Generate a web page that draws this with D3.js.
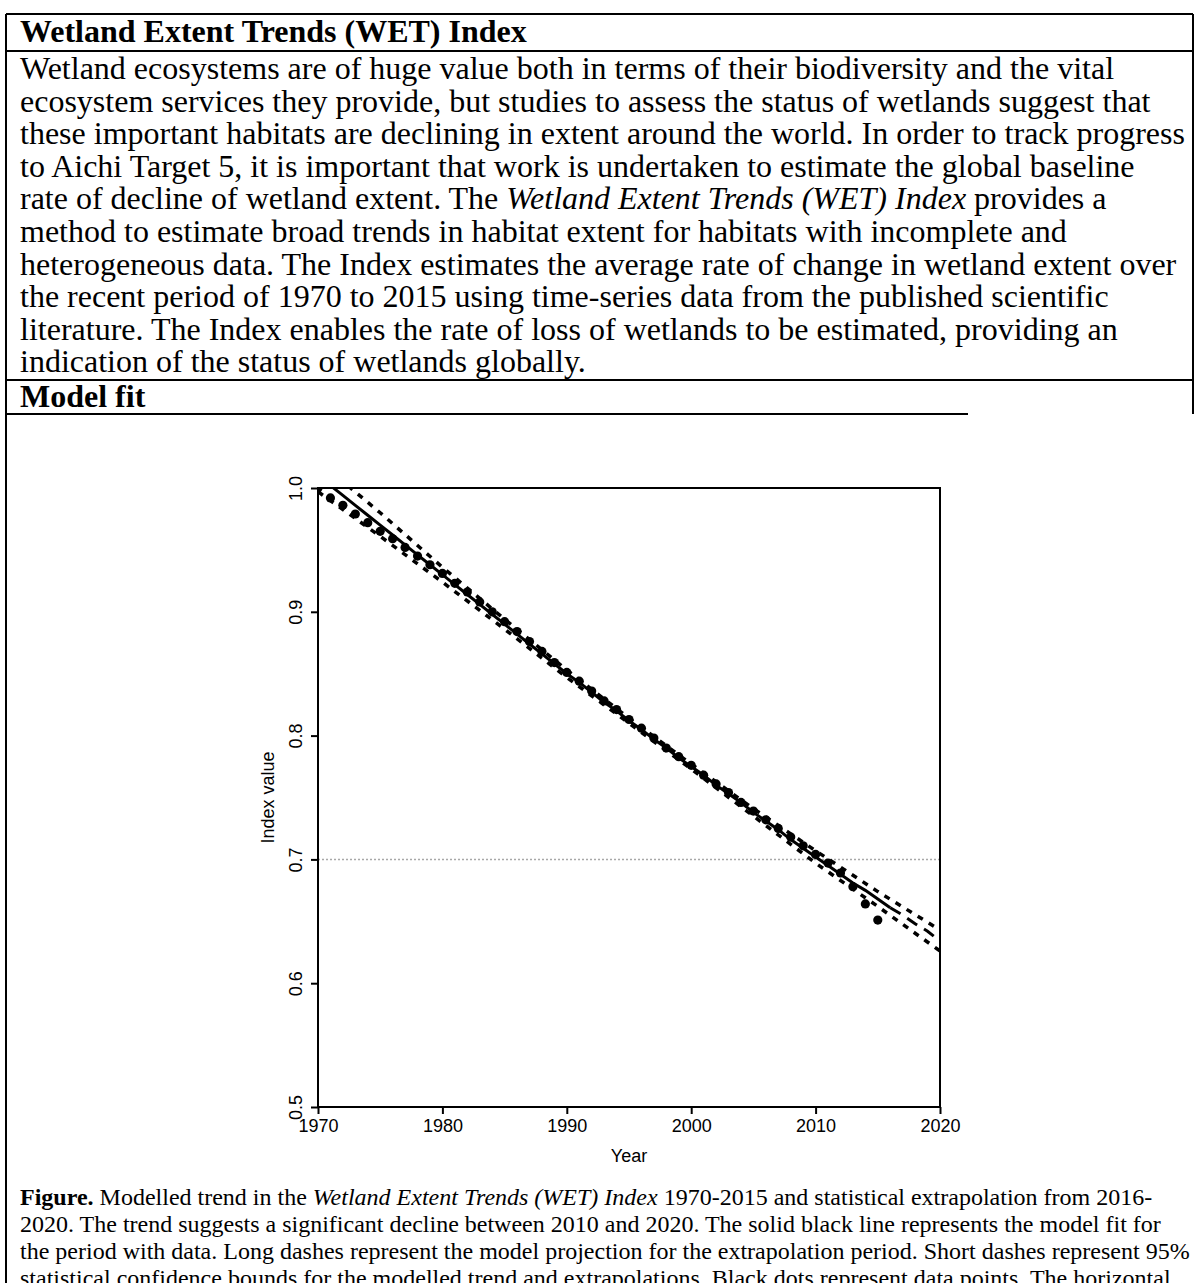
<!DOCTYPE html>
<html>
<head>
<meta charset="utf-8">
<script src="https://cdn.jsdelivr.net/npm/d3@7"></script>
<style>
  body { margin: 0; background: #ffffff; }
</style>
</head>
<body>
<div id="page"></div>
<script>
// values
const dotYears = [1970, 1971, 1972, 1973, 1974, 1975, 1976, 1977, 1978, 1979,
  1980, 1981, 1982, 1983, 1984, 1985, 1986, 1987, 1988, 1989,
  1990, 1991, 1992, 1993, 1994, 1995, 1996, 1997, 1998, 1999,
  2000, 2001, 2002, 2003, 2004, 2005, 2006, 2007, 2008, 2009,
  2010, 2011, 2012, 2013, 2014, 2015];
const dotValues = [1.000, 0.992, 0.986, 0.979, 0.972, 0.965, 0.959, 0.952, 0.945, 0.938,
  0.931, 0.923, 0.916, 0.908, 0.900, 0.892, 0.884, 0.876, 0.868, 0.859,
  0.851, 0.844, 0.836, 0.828, 0.821, 0.813, 0.806, 0.798, 0.790, 0.783,
  0.776, 0.768, 0.761, 0.754, 0.746, 0.739, 0.732, 0.725, 0.718, 0.711,
  0.704, 0.697, 0.689, 0.678, 0.664, 0.651];

// model fit (solid) for the period with data
const fitYears = [1970, 1971, 1972, 1973, 1974, 1975, 1976, 1977, 1978, 1979,
  1980, 1981, 1982, 1983, 1984, 1985, 1986, 1987, 1988, 1989,
  1990, 1991, 1992, 1993, 1994, 1995, 1996, 1997, 1998, 1999,
  2000, 2001, 2002, 2003, 2004, 2005, 2006, 2007, 2008, 2009,
  2010, 2011, 2012, 2013, 2014, 2015, 2016];
const fitValues = [1.010, 1.002, 0.994, 0.986, 0.978, 0.970, 0.962, 0.954, 0.946, 0.938,
  0.930, 0.922, 0.914, 0.906, 0.898, 0.890, 0.882, 0.874, 0.866, 0.858,
  0.850, 0.843, 0.835, 0.827, 0.820, 0.812, 0.805, 0.797, 0.790, 0.782,
  0.775, 0.768, 0.760, 0.753, 0.746, 0.738, 0.731, 0.724, 0.716, 0.709,
  0.702, 0.695, 0.688, 0.681, 0.675, 0.668, 0.661];

// extrapolation (long dashes)
const projYears = [2016, 2017, 2018, 2019, 2020];
const projValues = [0.661, 0.655, 0.648, 0.642, 0.634];

// 95% bounds (short dashes)
const ciYears = [1970, 1975, 1980, 1985, 1990, 1995, 2000, 2005, 2010, 2015, 2020];
const ciUpper = [1.022, 0.980, 0.936, 0.894, 0.853, 0.814, 0.777, 0.741, 0.707, 0.674, 0.643];
const ciLower = [0.997, 0.961, 0.924, 0.886, 0.847, 0.810, 0.773, 0.735, 0.697, 0.662, 0.626];

const xTicks = [1970, 1980, 1990, 2000, 2010, 2020];
const yTicks = [0.5, 0.6, 0.7, 0.8, 0.9, 1.0];
const refValue = 0.7;

// document text
const titleText = "Wetland Extent Trends (WET) Index";
const bodyLines = [
  [["Wetland ecosystems are of huge value both in terms of their biodiversity and the vital", ""]],
  [["ecosystem services they provide, but studies to assess the status of wetlands suggest that", ""]],
  [["these important habitats are declining in extent around the world. In order to track progress", ""]],
  [["to Aichi Target 5, it is important that work is undertaken to estimate the global baseline", ""]],
  [["rate of decline of wetland extent. The ", ""], ["Wetland Extent Trends (WET) Index", "i"], [" provides a", ""]],
  [["method to estimate broad trends in habitat extent for habitats with incomplete and", ""]],
  [["heterogeneous data. The Index estimates the average rate of change in wetland extent over", ""]],
  [["the recent period of 1970 to 2015 using time-series data from the published scientific", ""]],
  [["literature. The Index enables the rate of loss of wetlands to be estimated, providing an", ""]],
  [["indication of the status of wetlands globally.", ""]]
];
const sectionText = "Model fit";
const captionLines = [
  [["Figure.", "b"], [" Modelled trend in the ", ""], ["Wetland Extent Trends (WET) Index", "i"], [" 1970-2015 and statistical extrapolation from 2016-", ""]],
  [["2020. The trend suggests a significant decline between 2010 and 2020. The solid black line represents the model fit for", ""]],
  [["the period with data. Long dashes represent the model projection for the extrapolation period. Short dashes represent 95%", ""]],
  [["statistical confidence bounds for the modelled trend and extrapolations. Black dots represent data points. The horizontal", ""]]
];

const svgWidth = 1197;
const svgHeight = 1283;
const serif = "'Liberation Serif', 'Times New Roman', serif";
const sans = "'Liberation Sans', Arial, sans-serif";

const svg = d3.select("#page")
  .append("svg")
  .attr("width", svgWidth)
  .attr("height", svgHeight);

// table borders
const rules = [
  [6, 14, 1193, 14],
  [6, 51, 1193, 51],
  [6, 380, 1193, 380],
  [6, 414, 968, 414],
  [6, 14, 6, 1283],
  [1193, 14, 1193, 414]
];
svg.selectAll("line.rule")
  .data(rules)
  .enter()
  .append("line")
  .attr("class", "rule")
  .attr("x1", d => d[0]).attr("y1", d => d[1])
  .attr("x2", d => d[2]).attr("y2", d => d[3])
  .style("stroke", "black")
  .style("stroke-width", 2);

// writes a line made of plain / italic / bold pieces
function writeLine(x, y, size, pieces) {
  const t = svg.append("text")
    .attr("x", x)
    .attr("y", y)
    .style("font-family", serif)
    .style("font-size", size + "px")
    .attr("xml:space", "preserve");
  pieces.forEach(p => {
    t.append("tspan")
      .style("font-style", p[1] === "i" ? "italic" : "normal")
      .style("font-weight", p[1] === "b" ? "bold" : "normal")
      .text(p[0]);
  });
}

writeLine(20, 42, 32, [[titleText, "b"]]);
bodyLines.forEach((l, i) => writeLine(20, 79 + i * 32.6, 32, l));
writeLine(20, 407, 32, [[sectionText, "b"]]);
captionLines.forEach((l, i) => writeLine(20, 1205 + i * 27, 24, l));

// plot area
const plot = { left: 318, right: 940, top: 488, bottom: 1107 };

const xScale = d3.scaleLinear().domain([1970, 2020]).range([plot.left, plot.right]);
const yScale = d3.scaleLinear().domain([0.5, 1.0]).range([plot.bottom, plot.top]);

svg.append("clipPath")
  .attr("id", "plotClip")
  .append("rect")
  .attr("x", plot.left)
  .attr("y", plot.top)
  .attr("width", plot.right - plot.left)
  .attr("height", plot.bottom - plot.top);

const g = svg.append("g").attr("clip-path", "url(#plotClip)");

// grey reference line at 0.7
g.append("line")
  .attr("x1", plot.left).attr("x2", plot.right)
  .attr("y1", yScale(refValue)).attr("y2", yScale(refValue))
  .style("stroke", "#a8a8a8")
  .style("stroke-width", 1.5)
  .style("stroke-dasharray", "2,2");

const line = d3.line()
  .x(d => xScale(d[0]))
  .y(d => yScale(d[1]));

// confidence bounds
[ciUpper, ciLower].forEach(vals => {
  g.append("path")
    .attr("d", line(ciYears.map((yr, i) => [yr, vals[i]])))
    .style("fill", "none")
    .style("stroke", "black")
    .style("stroke-width", 3.5)
    .style("stroke-dasharray", "6,7");
});

// model fit
g.append("path")
  .attr("d", line(fitYears.map((yr, i) => [yr, fitValues[i]])))
  .style("fill", "none")
  .style("stroke", "black")
  .style("stroke-width", 3);

// projection
g.append("path")
  .attr("d", line(projYears.map((yr, i) => [yr, projValues[i]])))
  .style("fill", "none")
  .style("stroke", "black")
  .style("stroke-width", 3)
  .style("stroke-dasharray", "12,8");

// data points
g.selectAll("circle")
  .data(dotYears.map((yr, i) => [yr, dotValues[i]]))
  .enter()
  .append("circle")
  .attr("cx", d => xScale(d[0]))
  .attr("cy", d => yScale(d[1]))
  .attr("r", 4.6)
  .attr("fill", "black");

// box
svg.append("rect")
  .attr("x", plot.left)
  .attr("y", plot.top)
  .attr("width", plot.right - plot.left)
  .attr("height", plot.bottom - plot.top)
  .style("fill", "none")
  .style("stroke", "black")
  .style("stroke-width", 2);

// x axis
const xAxis = svg.append("g")
  .attr("transform", "translate(0," + plot.bottom + ")")
  .call(d3.axisBottom(xScale).tickValues(xTicks).tickFormat(d3.format("d")).tickSize(7).tickPadding(5));

// y axis, labels turned like R does
const yAxis = svg.append("g")
  .attr("transform", "translate(" + plot.left + ",0)")
  .call(d3.axisLeft(yScale).tickValues(yTicks).tickFormat(d3.format(".1f")).tickSize(7));

[xAxis, yAxis].forEach(a => {
  a.select(".domain").remove();
  a.selectAll("line").style("stroke", "black").style("stroke-width", 2);
  a.selectAll("text")
    .style("font-family", sans)
    .style("font-size", "18px")
    .style("fill", "black");
});

yAxis.selectAll("text")
  .attr("x", null)
  .attr("dy", null)
  .attr("transform", "translate(-16,0) rotate(-90)")
  .style("text-anchor", "middle");

// axis titles
svg.append("text")
  .attr("x", (plot.left + plot.right) / 2)
  .attr("y", 1162)
  .style("text-anchor", "middle")
  .style("font-family", sans)
  .style("font-size", "18px")
  .text("Year");

svg.append("text")
  .attr("transform", "translate(274," + (plot.top + plot.bottom) / 2 + ") rotate(-90)")
  .style("text-anchor", "middle")
  .style("font-family", sans)
  .style("font-size", "18px")
  .text("Index value");
</script>
</body>
</html>
